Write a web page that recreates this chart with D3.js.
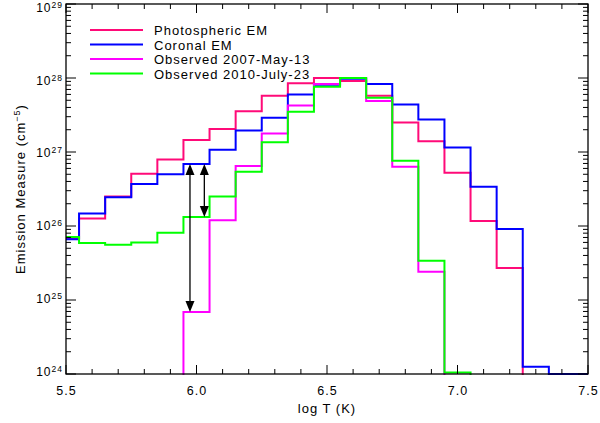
<!DOCTYPE html>
<html>
<head>
<meta charset="utf-8">
<script src="https://cdn.jsdelivr.net/npm/d3@7"></script>
<style>
  body { margin: 0; background: #fff; }
  svg { display: block; font-family: "Liberation Sans", Arial, sans-serif; }
</style>
</head>
<body>
<script>
// bin centres in log T
var logT = [5.5, 5.6, 5.7, 5.8, 5.9, 6.0, 6.1, 6.2, 6.3, 6.4, 6.5,
            6.6, 6.7, 6.8, 6.9, 7.0, 7.1, 7.2, 7.3, 7.4, 7.5];

// emission measure per bin (cm^-5); 1e22 means "below the plot"
var photoEM = [6.8e25, 1.26e26, 2.5e26, 5.1e26, 7.9e26, 1.45e27, 2.05e27, 3.55e27, 5.75e27, 8.5e27, 1.0e28,
               9.1e27, 5.75e27, 2.5e27, 1.4e27, 5.25e26, 1.17e26, 2.7e25, 1e22, 1e22, 1e22];
var coronalEM = [6.6e25, 1.48e26, 2.45e26, 3.7e26, 5.0e26, 6.9e26, 1.07e27, 1.95e27, 2.9e27, 6.0e27, 8.1e27,
                 9.8e27, 8.3e27, 4.4e27, 2.75e27, 1.15e27, 3.4e26, 9.1e25, 1.25e24, 1.0e24, 1.0e24];
var obs2007 = [1e22, 1e22, 1e22, 1e22, 1e22, 6.9e24, 1.2e26, 6.45e26, 1.78e27, 4.25e27, 8.3e27,
               1.0e28, 4.9e27, 6.3e26, 2.4e25, 1e22, 1e22, 1e22, 1e22, 1e22, 1e22];
var obs2010 = [7.1e25, 5.9e25, 5.6e25, 6.0e25, 8.1e25, 1.32e26, 2.5e26, 5.4e26, 1.35e27, 3.5e27, 7.6e27,
               1.0e28, 5.4e27, 7.6e26, 3.4e25, 1.05e24, 1e22, 1e22, 1e22, 1e22, 1e22];

var seriesNames = ["Photospheric EM", "Coronal EM", "Observed 2007-May-13", "Observed 2010-July-23"];
var seriesColors = ["#ff0a78", "#0000ff", "#ff00ff", "#00ff00"];
var seriesValues = [photoEM, coronalEM, obs2007, obs2010];

var xTicks = [5.5, 6.0, 6.5, 7.0, 7.5];
var yExps = [24, 25, 26, 27, 28, 29];

// arrows: [log T, from series index, to series index, bin index]
var arrows = [[5.975, 1, 2, 5], [6.03, 1, 3, 5]];

var W = 600, H = 423;
var margin = {left: 66, right: 12, top: 4, bottom: 49};
var width = W - margin.left - margin.right,
    height = H - margin.top - margin.bottom;

var svg = d3.select("body").append("svg")
    .attr("width", W).attr("height", H)
    .attr("letter-spacing", 1);

var g = svg.append("g")
    .attr("transform", "translate(" + margin.left + "," + margin.top + ")");

var x = d3.scaleLinear().domain([5.5, 7.5]).range([0, width]);
var y = d3.scaleLog().domain([1e24, 1e29]).range([height, 0]);

svg.append("defs").append("clipPath").attr("id", "clip")
    .append("rect").attr("x", 0).attr("y", -1).attr("width", width).attr("height", height + 2);

// step histograms
var line = d3.line()
    .x(function(d) { return x(d[0]); })
    .y(function(d) { return y(d[1]); })
    .curve(d3.curveStep);

var plot = g.append("g").attr("clip-path", "url(#clip)");
seriesValues.forEach(function(vals, i) {
    plot.append("path")
        .datum(logT.map(function(t, k) { return [t, vals[k]]; }))
        .attr("d", line)
        .attr("fill", "none")
        .attr("stroke", seriesColors[i])
        .attr("stroke-width", 2);
});

// double-headed arrows
arrows.forEach(function(a) {
    var ax = x(a[0]),
        y1 = y(seriesValues[a[1]][a[3]]),
        y2 = y(seriesValues[a[2]][a[3]]);
    g.append("line").attr("x1", ax).attr("x2", ax).attr("y1", y1 + 6).attr("y2", y2 - 6)
        .attr("stroke", "#000").attr("stroke-width", 1.3);
    g.append("path")
        .attr("d", "M" + ax + "," + y1 + "l-4.5,11h9z")
        .attr("fill", "#000");
    g.append("path")
        .attr("d", "M" + ax + "," + y2 + "l-4.5,-11h9z")
        .attr("fill", "#000");
});

// frame
g.append("rect").attr("width", width).attr("height", height)
    .attr("fill", "none").attr("stroke", "#000").attr("stroke-width", 1.3);

// x ticks (bottom and top, pointing inward)
var xMinor = d3.range(56, 75).map(function(v) { return v / 10; })
    .filter(function(v) { return xTicks.indexOf(v) < 0; });
function xTickMarks(yy, dir) {
    xTicks.forEach(function(t) {
        g.append("line").attr("x1", x(t)).attr("x2", x(t))
            .attr("y1", yy).attr("y2", yy + dir * 9).attr("stroke", "#000");
    });
    xMinor.forEach(function(t) {
        g.append("line").attr("x1", x(t)).attr("x2", x(t))
            .attr("y1", yy).attr("y2", yy + dir * 5).attr("stroke", "#000");
    });
}
xTickMarks(height, -1);
xTickMarks(0, 1);

g.selectAll(".xlab").data(xTicks).enter().append("text")
    .attr("x", function(d) { return x(d) + 0.5; })
    .attr("y", height + 21)
    .attr("text-anchor", "middle")
    .attr("font-size", 12.5)
    .text(function(d) { return d.toFixed(1); });

// y ticks (left and right), log minors
function yTickMarks(xx, dir) {
    yExps.forEach(function(e, i) {
        var v = Math.pow(10, e);
        g.append("line").attr("x1", xx).attr("x2", xx + dir * 10)
            .attr("y1", y(v)).attr("y2", y(v)).attr("stroke", "#000");
        if (i < yExps.length - 1) {
            for (var m = 2; m <= 9; m++) {
                g.append("line").attr("x1", xx).attr("x2", xx + dir * 5)
                    .attr("y1", y(m * v)).attr("y2", y(m * v)).attr("stroke", "#000");
            }
        }
    });
}
yTickMarks(0, 1);
yTickMarks(width, -1);

// labels sit a little lower as they go up the axis, as in the original
var ylab = g.selectAll(".ylab").data(yExps).enter().append("text")
    .attr("x", -3)
    .attr("y", function(d) { return y(Math.pow(10, d)) + 1.5 + 1.3 * (d - 24); })
    .attr("text-anchor", "end")
    .attr("font-size", 12);
ylab.append("tspan").text("10");
ylab.append("tspan").attr("dy", -4).attr("font-size", 8.5).text(function(d) { return d; });

// axis titles
svg.append("text")
    .attr("x", margin.left + width / 2).attr("y", H - 10)
    .attr("text-anchor", "middle").attr("font-size", 13)
    .text("log T (K)");

var yt = svg.append("text")
    .attr("transform", "translate(25," + (margin.top + height / 2) + ") rotate(-90)")
    .attr("text-anchor", "middle").attr("font-size", 13);
yt.append("tspan").text("Emission Measure (cm");
yt.append("tspan").attr("dy", -5).attr("font-size", 9).text("\u22125");
yt.append("tspan").attr("dy", 5).text(")");

// legend
var leg = g.append("g").attr("transform", "translate(24,26)");
seriesNames.forEach(function(n, i) {
    leg.append("line").attr("x1", 0).attr("x2", 53)
        .attr("y1", i * 14.5).attr("y2", i * 14.5)
        .attr("stroke", seriesColors[i]).attr("stroke-width", 2);
    leg.append("text").attr("x", 64).attr("y", i * 14.5 + 5)
        .attr("font-size", 13).text(n);
});
</script>
</body>
</html>
